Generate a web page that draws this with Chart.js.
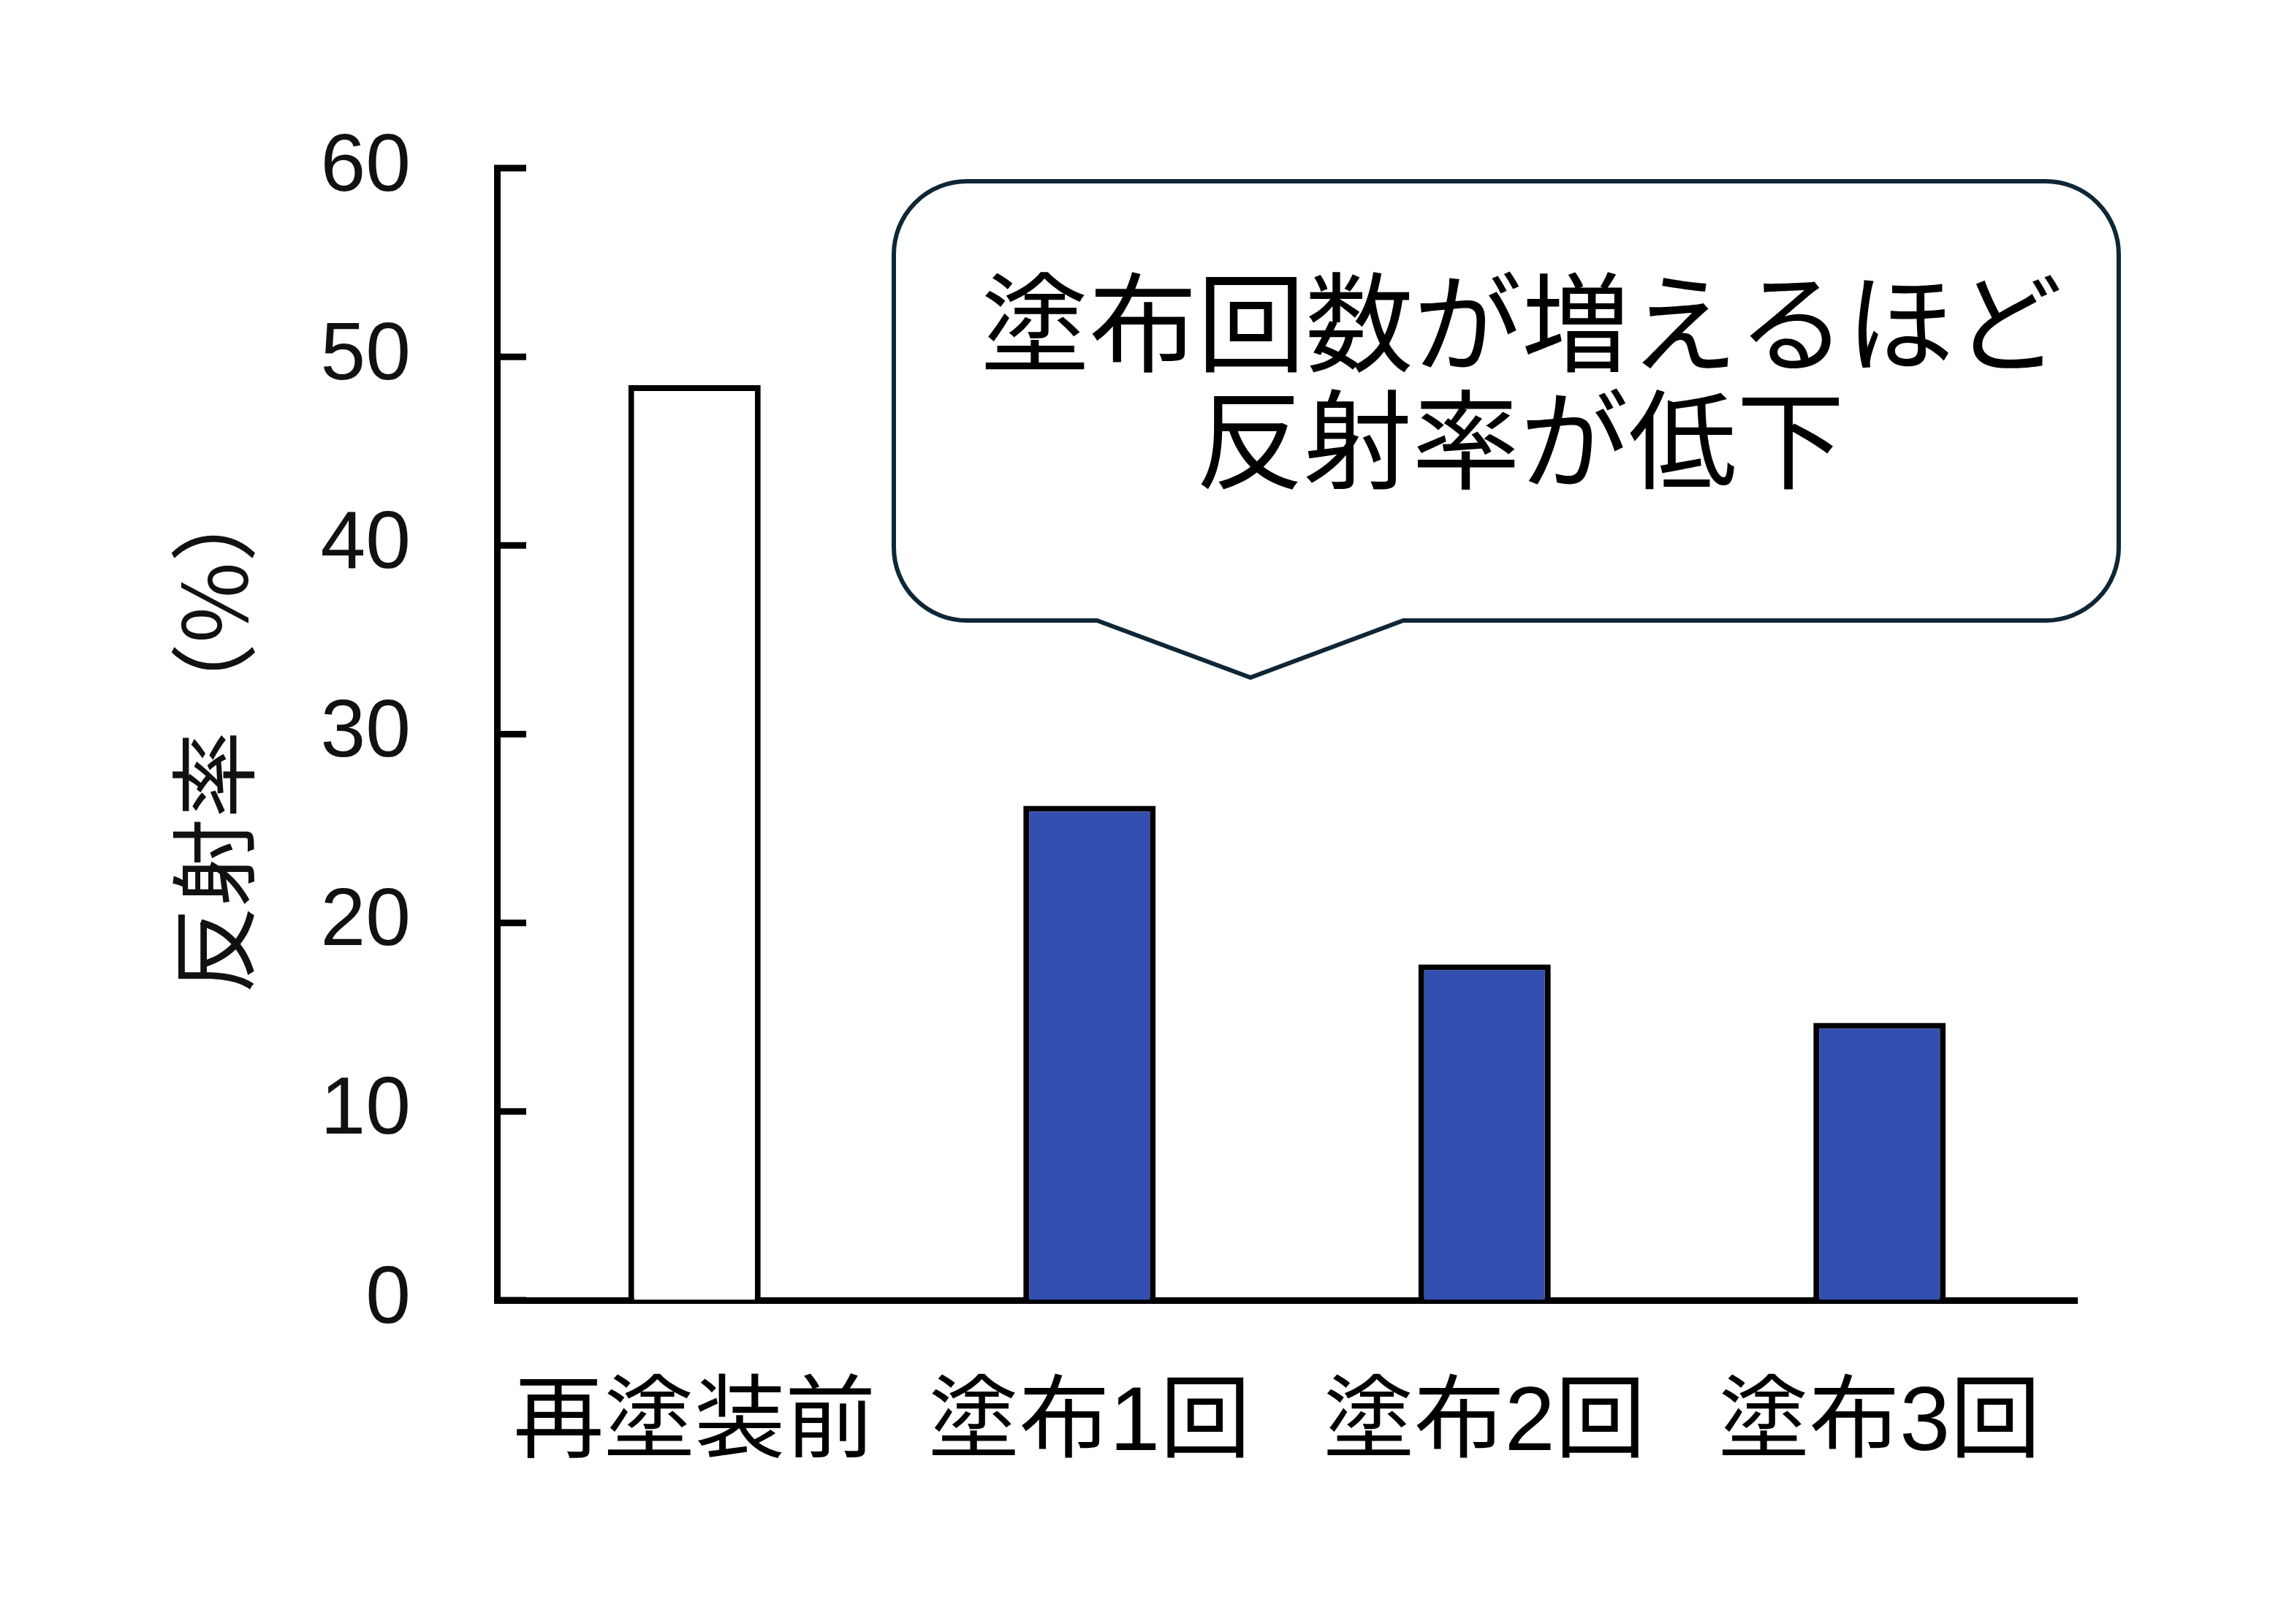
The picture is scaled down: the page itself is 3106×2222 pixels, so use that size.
<!DOCTYPE html>
<html>
<head>
<meta charset="utf-8">
<script src="https://cdn.jsdelivr.net/npm/chart.js@4"></script>
<style>
html,body{margin:0;padding:0;background:#fff;}
#wrap{width:3106px;height:2222px;}
</style>
</head>
<body>
<div id="wrap"><canvas id="c" width="3106" height="2222"></canvas></div>
<script>
const categories = ["再塗装前", "塗布1回", "塗布2回", "塗布3回"];
const reflectance = [48.5, 26.2, 17.8, 14.7];
const barColors = ["#ffffff", "#324fb0", "#324fb0", "#324fb0"];
const yTicks = [0, 10, 20, 30, 40, 50, 60];
const yTitle = "反射率（%）";
const calloutLines = ["塗布回数が増えるほど", "反射率が低下"];

const innerTicks = {
  id: 'innerTicks',
  afterDraw(chart) {
    const y = chart.scales.y, ctx = chart.ctx, left = chart.chartArea.left;
    ctx.save();
    ctx.strokeStyle = '#000';
    ctx.lineWidth = 9;
    ctx.lineCap = 'butt';
    yTicks.forEach(v => {
      const py = y.getPixelForValue(v);
      ctx.beginPath();
      ctx.moveTo(left - 4, py);
      ctx.lineTo(left + 40, py);
      ctx.stroke();
    });
    ctx.restore();
  }
};

const callout = {
  id: 'callout',
  afterDraw(chart) {
    const ctx = chart.ctx;
    const L = 1223, R = 2899, T = 248, B = 849, r = 100;
    const p1 = 1501, p2 = 1920, tipX = 1711, tipY = 927;
    ctx.save();
    ctx.beginPath();
    ctx.moveTo(L + r, T);
    ctx.lineTo(R - r, T);
    ctx.arcTo(R, T, R, T + r, r);
    ctx.lineTo(R, B - r);
    ctx.arcTo(R, B, R - r, B, r);
    ctx.lineTo(p2, B);
    ctx.lineTo(tipX, tipY);
    ctx.lineTo(p1, B);
    ctx.lineTo(L + r, B);
    ctx.arcTo(L, B, L, B - r, r);
    ctx.lineTo(L, T + r);
    ctx.arcTo(L, T, L + r, T, r);
    ctx.closePath();
    ctx.fillStyle = '#ffffff';
    ctx.fill();
    ctx.lineWidth = 6;
    ctx.strokeStyle = '#0f2636';
    ctx.lineJoin = 'miter';
    ctx.stroke();
    ctx.fillStyle = '#000';
    ctx.font = '148px "Noto Sans CJK JP"';
    ctx.textAlign = 'center';
    ctx.textBaseline = 'middle';
    ctx.fillText(calloutLines[0], 2082, 441);
    ctx.fillText(calloutLines[1], 2080, 601);
    ctx.restore();
  }
};

new Chart(document.getElementById('c'), {
  type: 'bar',
  data: {
    labels: categories,
    datasets: [{
      data: reflectance,
      backgroundColor: barColors,
      borderColor: '#000',
      borderWidth: 8,
      barPercentage: 0.335,
      categoryPercentage: 1.0
    }]
  },
  options: {
    responsive: false,
    devicePixelRatio: 1,
    animation: false,
    layout: { padding: { left: 0, top: 230, right: 264, bottom: 0 } },
    plugins: { legend: { display: false }, tooltip: { enabled: false } },
    scales: {
      x: {
        grid: { display: false },
        border: { display: true, color: '#000', width: 9 },
        ticks: {
          color: '#000',
          padding: 88,
          maxRotation: 0,
          font: { family: '"Liberation Sans", "Noto Sans CJK JP"', size: 124 }
        },
        afterFit(scale) { scale.height = 2222 - 1779; }
      },
      y: {
        min: 0, max: 60,
        grid: { display: true, drawOnChartArea: false, drawTicks: false, color: 'rgba(0,0,0,0)' },
        border: { display: true, color: '#000', width: 9 },
        ticks: {
          stepSize: 10,
          color: '#111',
          padding: 118,
          font: { family: '"Liberation Sans"', size: 111 }
        },
        title: {
          display: true,
          text: yTitle,
          color: '#111',
          padding: { top: 220, bottom: 0 },
          font: { family: '"Noto Sans CJK JP"', size: 120 }
        },
        afterFit(scale) { scale.width = 680; }
      }
    }
  },
  plugins: [innerTicks, callout]
});
</script>
</body>
</html>
